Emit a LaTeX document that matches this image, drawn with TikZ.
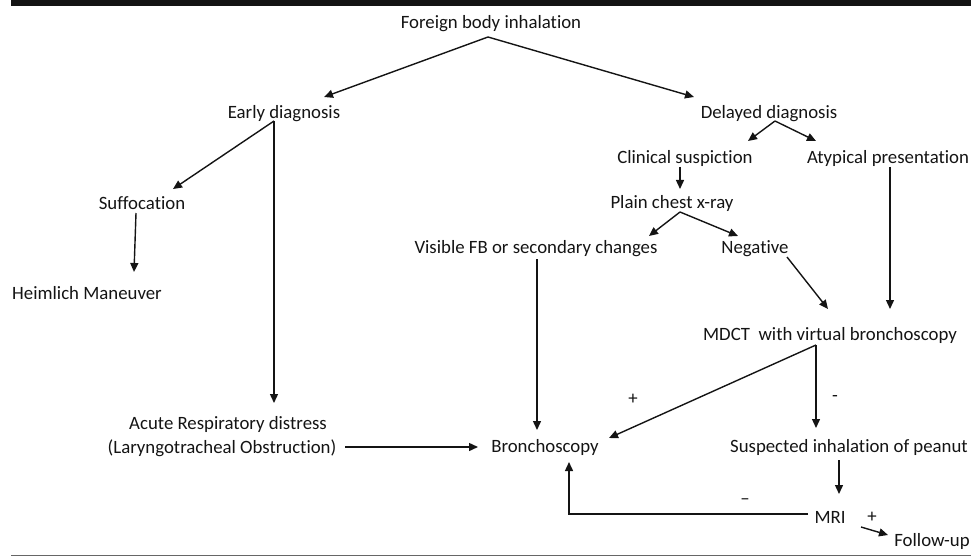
\documentclass[tikz,border=0pt]{standalone}
\usepackage{fontspec}
\setmainfont{Carlito}[Ligatures={NoCommon}]
\usetikzlibrary{arrows.meta}
\definecolor{ink}{HTML}{141414}
\begin{document}
\begin{tikzpicture}[x=1pt,y=-1pt,
  lbl/.style={anchor=base,inner sep=0pt,text=ink,font=\fontsize{18.8}{22}\selectfont},
  sgn/.style={anchor=center,inner sep=0pt,text=ink,font=\fontsize{18.8}{22}\selectfont},
  arr/.style={draw=ink,line width=1.4pt,-{Triangle[length=9pt,width=8pt]}}]
\useasboundingbox (0,0) rectangle (971,556);
\fill[ink] (11,0) rectangle (971,6);
\draw[gray!80!black,line width=1pt] (11,555) -- (971,555);

\node[lbl] (fbi) at (491,29) {Foreign body inhalation};
\node[lbl] (ed) at (284,119) {Early diagnosis};
\node[lbl] (dd) at (769,119) {Delayed diagnosis};
\node[lbl] (cs) at (685,164) {Clinical suspiction};
\node[lbl] (at) at (888,164) {Atypical presentation};
\node[lbl] (suf) at (142,209) {Suffocation};
\node[lbl] (pcx) at (672,208) {Plain chest x-ray};
\node[lbl] (vis) at (536,253) {Visible FB or secondary changes};
\node[lbl] (neg) at (755,253) {Negative};
\node[lbl] (heim) at (87,299) {Heimlich Maneuver};
\node[lbl] (mdct) at (830,340) {MDCT\ \ with virtual bronchoscopy};
\node[lbl] (ac1) at (228,429) {Acute Respiratory distress};
\node[lbl] (ac2) at (222,453) {(Laryngotracheal Obstruction)};
\node[lbl] (bron) at (545,452) {Bronchoscopy};
\node[lbl] (sus) at (849,452) {Suspected inhalation of peanut};
\node[lbl] (mri) at (830,523) {MRI};
\node[lbl] (fu) at (932,546) {Follow-up};
\node[sgn] (p1) at (633,399) {+};
\node[sgn] (m1) at (835,399) {-};
\node[sgn] (m2) at (745,502) {–};
\node[sgn] (p2) at (872,517) {+};

\draw[arr] ([shift={(-3,8)}]fbi.base) -- ([shift={(40,-22)}]ed.base);
\draw[arr] ([shift={(-3,8)}]fbi.base) -- ([shift={(-75,-22)}]dd.base);
\draw[arr] ([shift={(-10,2)}]ed.base) -- ([shift={(31,-20)}]suf.base);
\draw[arr] ([shift={(-10,2)}]ed.base) -- ([shift={(46,-26)}]ac1.base);
\draw[arr] ([shift={(-6,4)}]suf.base) -- ([shift={(47,-27)}]heim.base);
\draw[arr] ([shift={(123,-6)}]ac2.base) -- ([shift={(-67,-5)}]bron.base);
\draw[arr] ([shift={(6,2)}]dd.base) -- ([shift={(63,-23)}]cs.base);
\draw[arr] ([shift={(6,2)}]dd.base) -- ([shift={(-72,-23)}]at.base);
\draw[arr] ([shift={(-5,3)}]cs.base) -- ([shift={(8,-19)}]pcx.base);
\draw[arr] ([shift={(8,4)}]pcx.base) -- ([shift={(113,-17)}]vis.base);
\draw[arr] ([shift={(8,4)}]pcx.base) -- ([shift={(-17,-17)}]neg.base);
\draw[arr] ([shift={(1,6)}]vis.base) -- ([shift={(-8,-22)}]bron.base);
\draw[arr] ([shift={(32,4)}]neg.base) -- ([shift={(-2,-31)}]mdct.base);
\draw[arr] ([shift={(2,3)}]at.base) -- ([shift={(60,-31)}]mdct.base);
\draw[arr] ([shift={(-14,5)}]mdct.base) -- ([shift={(64,-14)}]bron.base);
\draw[arr] ([shift={(-14,5)}]mdct.base) -- ([shift={(-33,-24)}]sus.base);
\draw[arr] ([shift={(-10,8)}]sus.base) -- ([shift={(9,-29)}]mri.base);
\draw[arr] ([shift={(-22,-9)}]mri.base) -| ([shift={(24,10)}]bron.base);
\draw[arr] ([shift={(31,4)}]mri.base) -- ([shift={(-44,-11)}]fu.base);
\end{tikzpicture}
\end{document}
